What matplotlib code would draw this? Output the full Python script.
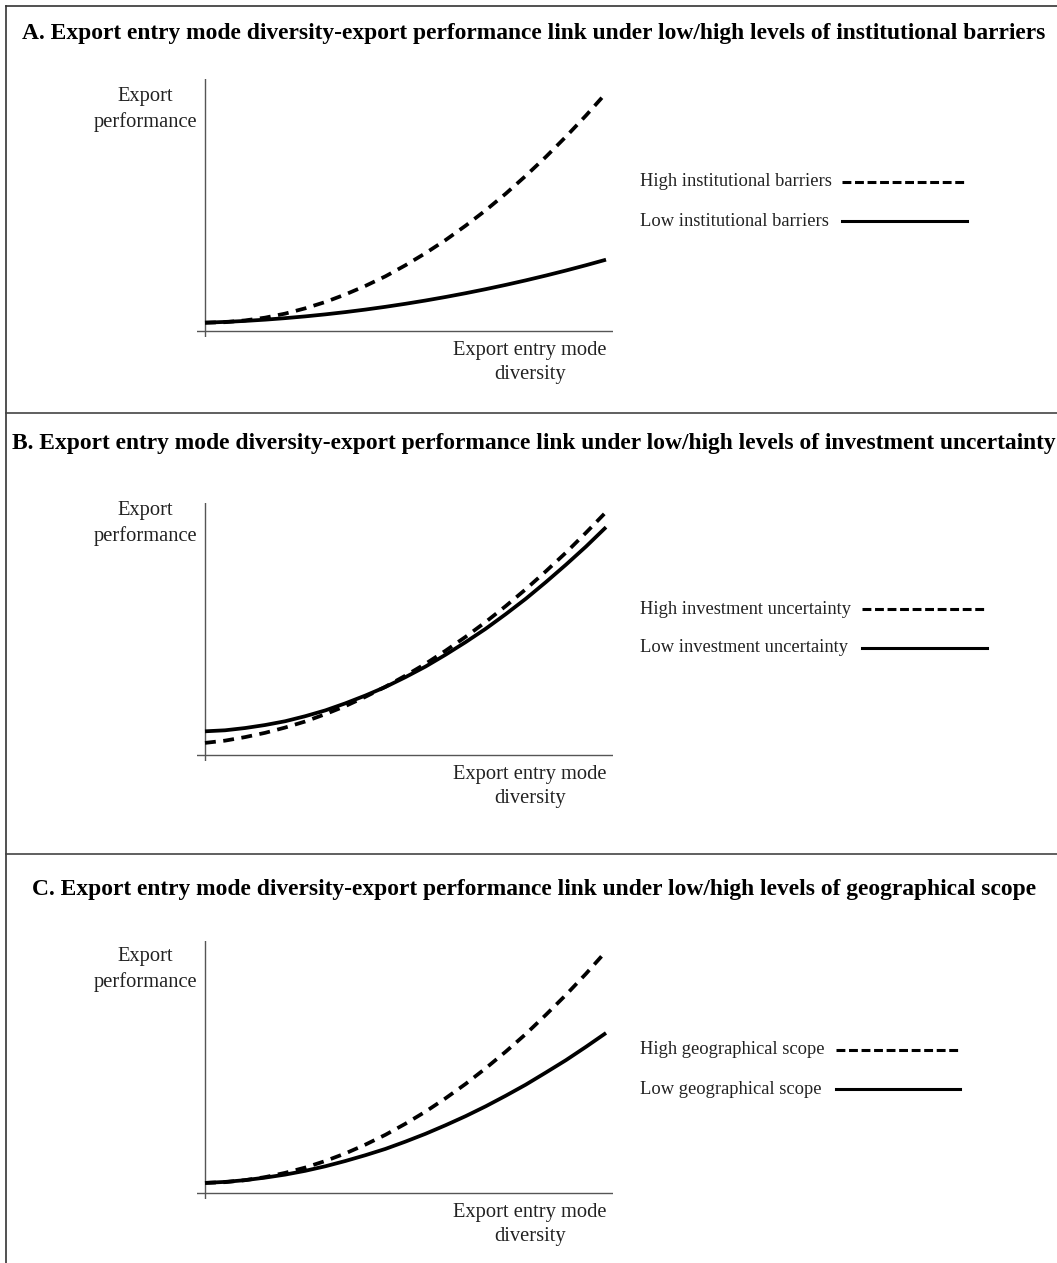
import matplotlib
matplotlib.use("Agg")
import matplotlib.pyplot as plt
from matplotlib.lines import Line2D

plt.rcParams['font.family'] = ['Liberation Serif', 'DejaVu Serif']

# diversity levels (x) and export performance
diversity = [0, 0.5, 1, 1.5, 2, 2.5, 3, 3.5, 4, 4.5, 5,
             5.5, 6, 6.5, 7, 7.5, 8, 8.5, 9, 9.5, 10]

titles = [
    "A. Export entry mode diversity-export performance link under low/high levels of institutional barriers",
    "B. Export entry mode diversity-export performance link under low/high levels of investment uncertainty",
    "C. Export entry mode diversity-export performance link under low/high levels of geographical scope",
]
high_labels = ["High institutional barriers", "High investment uncertainty", "High geographical scope"]
low_labels = ["Low institutional barriers", "Low investment uncertainty", "Low geographical scope"]

high_a = [0.33, 0.35, 0.42, 0.53, 0.69, 0.90, 1.15, 1.45, 1.79, 2.17, 2.61,
          3.09, 3.61, 4.18, 4.79, 5.45, 6.16, 6.91, 7.71, 8.55, 9.44]
low_a = [0.33, 0.36, 0.40, 0.45, 0.51, 0.58, 0.66, 0.75, 0.85, 0.96, 1.08,
         1.21, 1.35, 1.50, 1.66, 1.83, 2.01, 2.20, 2.40, 2.61, 2.83]
high_b = [0.48, 0.57, 0.71, 0.88, 1.09, 1.33, 1.62, 1.94, 2.31, 2.71, 3.15,
          3.62, 4.14, 4.69, 5.28, 5.91, 6.58, 7.29, 8.03, 8.82, 9.64]
low_b = [0.94, 0.98, 1.07, 1.19, 1.34, 1.54, 1.77, 2.05, 2.36, 2.70, 3.09,
         3.51, 3.98, 4.48, 5.01, 5.59, 6.20, 6.86, 7.55, 8.27, 9.04]
high_c = [0.40, 0.43, 0.51, 0.63, 0.80, 1.01, 1.27, 1.57, 1.92, 2.31, 2.75,
          3.23, 3.76, 4.33, 4.95, 5.61, 6.31, 7.07, 7.86, 8.70, 9.59]
low_c = [0.40, 0.44, 0.51, 0.61, 0.73, 0.88, 1.06, 1.27, 1.50, 1.75, 2.04,
         2.35, 2.69, 3.05, 3.44, 3.86, 4.30, 4.78, 5.27, 5.80, 6.35]

highs = [high_a, high_b, high_c]
lows = [low_a, low_b, low_c]

W, H = 1057, 1263
fig = plt.figure(figsize=(W / 100, H / 100), dpi=100)


def fx(px):
    return px / W


def fy(py):
    return 1 - py / H


# layout per panel (pixels): title y, x-axis y, y-label rows, legend rows, legend line x
title_y = [33, 443, 889]
axis_y = [331, 755, 1193]
ylab_y = [(97, 122), (511, 536), (957, 982)]
leg_y = [(182, 221), (609, 648), (1050, 1089)]
leg_x = [(842, 967), (862, 987), (836, 960)]

# outer border and separators
fig.add_artist(Line2D([fx(6), fx(6)], [fy(6), fy(H + 5)], color="#333", lw=1.2))
fig.add_artist(Line2D([fx(6), fx(W + 5)], [fy(6), fy(6)], color="#333", lw=1.2))
for sy in [413, 854]:
    fig.add_artist(Line2D([fx(6), fx(W + 5)], [fy(sy), fy(sy)], color="#444", lw=1.2))

ppu = 25.2  # pixels per y unit
for i in range(3):
    x0, x1 = 197, 613
    y_top = axis_y[i] - 252
    y_bot = axis_y[i] + 6
    ax = fig.add_axes([fx(x0), fy(y_bot), fx(x1) - fx(x0), fy(y_top) - fy(y_bot)])
    ax.set_xlim(-8 / 40.1, (x1 - 205) / 40.1)
    ax.set_ylim(-6 / ppu, 252 / ppu)
    for s in ax.spines.values():
        s.set_visible(False)
    ax.set_xticks([])
    ax.set_yticks([])
    ax.patch.set_alpha(0)
    ax.axhline(0, color="#555", lw=1.0)
    ax.axvline(0, color="#555", lw=1.0)

    ax.plot(diversity, highs[i], color="black", lw=2.7, dashes=(2.9, 2.0),
            solid_capstyle="butt", dash_capstyle="butt")
    ax.plot(diversity, lows[i], color="black", lw=2.7, solid_capstyle="butt")

    fig.text(fx(534), fy(title_y[i]), titles[i], ha="center", va="center",
             fontsize=16.9, fontweight="bold", color="black")
    fig.text(fx(145), fy(ylab_y[i][0]), "Export", ha="center", va="center",
             fontsize=14.8, color="#222")
    fig.text(fx(145), fy(ylab_y[i][1]), "performance", ha="center", va="center",
             fontsize=14.8, color="#222")
    fig.text(fx(530), fy(axis_y[i] + 20), "Export entry mode", ha="center", va="center",
             fontsize=14.8, color="#222")
    fig.text(fx(530), fy(axis_y[i] + 44), "diversity", ha="center", va="center",
             fontsize=14.8, color="#222")

    # legend: label on the left, line sample on the right
    fig.text(fx(640), fy(leg_y[i][0]), high_labels[i], ha="left", va="center",
             fontsize=13.3, color="#222")
    fig.text(fx(640), fy(leg_y[i][1]), low_labels[i], ha="left", va="center",
             fontsize=13.3, color="#222")
    lx0, lx1 = leg_x[i]
    fig.add_artist(Line2D([fx(lx0), fx(lx1)], [fy(leg_y[i][0]), fy(leg_y[i][0])],
                          color="black", lw=2.2, dashes=(2.9, 1.2), dash_capstyle="butt"))
    fig.add_artist(Line2D([fx(lx0), fx(lx1)], [fy(leg_y[i][1]), fy(leg_y[i][1])],
                          color="black", lw=2.2))

fig.savefig("out.png", dpi=100)
